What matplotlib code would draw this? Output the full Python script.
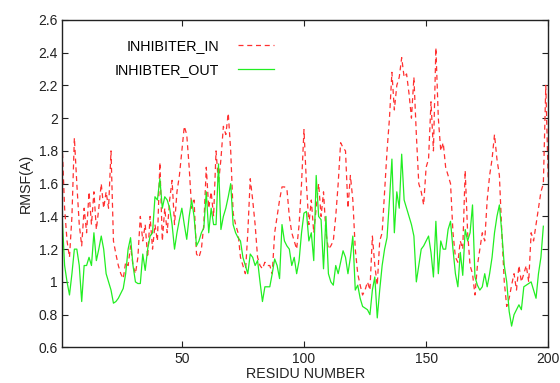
import numpy as np
import matplotlib
matplotlib.use("Agg")
import matplotlib.pyplot as plt

plt.rcParams['font.family'] = ['Liberation Sans', 'DejaVu Sans']

# RMSF per residue
rmsf_in = [
    1.84, 1.45, 1.25, 1.15, 1.40, 1.88, 1.60, 1.35, 1.22, 1.45,
    1.30, 1.55, 1.35, 1.55, 1.32, 1.45, 1.60, 1.45, 1.55, 1.45,
    1.80, 1.25, 1.17, 1.10, 1.05, 1.02, 1.12, 1.10, 1.22, 1.10,
    1.05, 1.15, 1.40, 1.25, 1.35, 1.15, 1.40, 1.20, 1.35, 1.25,
    1.73, 1.25, 1.45, 1.30, 1.50, 1.62, 1.35, 1.55, 1.65, 1.80,
    1.95, 1.90, 1.70, 1.45, 1.50, 1.17, 1.15, 1.20, 1.35, 1.70,
    1.45, 1.55, 1.40, 1.80, 1.60, 1.75, 1.95, 1.90, 2.03, 1.80,
    1.42, 1.35, 1.30, 1.15, 1.10, 1.05, 1.30, 1.63, 1.50, 1.35,
    1.15, 1.10, 1.08, 1.12, 1.10, 1.10, 1.05, 1.30, 1.40, 1.50,
    1.58, 1.58, 1.57, 1.40, 1.30, 1.25, 1.20, 1.35, 1.60, 1.93,
    1.60, 1.35, 1.50, 1.30, 1.45, 1.60, 1.40, 1.55, 1.30, 1.20,
    1.22, 1.25, 1.40, 1.60, 1.85, 1.82, 1.80, 1.45, 1.65, 1.50,
    1.20, 1.05, 0.98, 0.92, 0.95, 1.00, 0.95, 1.28, 1.10, 0.98,
    1.25, 1.30, 1.55, 1.80, 2.00, 2.28, 2.05, 2.20, 2.25, 2.37,
    2.25, 2.27, 2.15, 2.00, 2.25, 1.90, 1.60, 1.55, 1.47, 1.70,
    1.75, 2.10, 1.80, 2.43, 2.00, 1.80, 1.85, 1.70, 1.65, 1.60,
    1.30, 1.15, 1.12, 1.25, 1.20, 1.68, 1.30, 1.10, 1.05, 0.92,
    1.10, 1.20, 1.30, 1.25, 1.50, 1.65, 1.75, 1.90, 1.75, 1.65,
    1.30, 1.00, 0.85, 0.90, 0.98, 1.05, 0.95, 1.10, 1.00, 1.05,
    1.10, 1.00, 1.30, 1.25, 1.35, 1.45, 1.55, 1.60, 2.20, 1.62,
]

rmsf_out = [
    1.40, 1.10, 1.00, 0.92, 1.05, 1.20, 1.20, 1.10, 0.88, 1.10,
    1.10, 1.15, 1.10, 1.30, 1.13, 1.20, 1.28, 1.20, 1.05, 1.00,
    0.95, 0.87, 0.88, 0.90, 0.93, 0.96, 1.05, 1.20, 1.27, 1.10,
    1.00, 0.99, 0.99, 1.17, 1.07, 1.20, 1.28, 1.30, 1.52, 1.50,
    1.63, 1.45, 1.52, 1.50, 1.45, 1.35, 1.20, 1.30, 1.38, 1.45,
    1.35, 1.26, 1.40, 1.50, 1.40, 1.22, 1.25, 1.30, 1.33, 1.55,
    1.30, 1.45, 1.35, 1.35, 1.72, 1.32, 1.40, 1.45, 1.52, 1.60,
    1.35, 1.30, 1.27, 1.25, 1.15, 1.10, 1.05, 1.17, 1.15, 1.10,
    1.13, 1.00, 0.88, 0.97, 0.97, 0.97, 1.05, 1.14, 1.10, 1.02,
    1.35, 1.25, 1.22, 1.20, 1.10, 1.15, 1.05, 1.13, 1.30, 1.42,
    1.43, 1.25, 1.30, 1.13, 1.65, 1.40, 1.38, 1.08, 1.40, 1.05,
    1.00, 0.98, 1.10, 1.05, 1.12, 1.19, 1.15, 1.05, 1.15, 1.28,
    0.95, 0.98, 0.90, 0.85, 0.84, 0.83, 0.80, 0.95, 1.03, 0.78,
    0.95, 1.10, 1.20, 1.27, 1.50, 1.75, 1.30, 1.55, 1.45, 1.78,
    1.50, 1.45, 1.40, 1.35, 1.28, 1.00, 1.10, 1.20, 1.22, 1.25,
    1.28, 1.18, 1.03, 1.37, 1.05, 1.25, 1.20, 1.20, 1.32, 1.37,
    1.20, 1.05, 0.97, 1.18, 1.04, 1.32, 1.25, 1.30, 1.47, 1.03,
    0.98, 0.95, 0.97, 1.05, 0.97, 1.05, 1.15, 1.30, 1.40, 1.47,
    1.30, 1.10, 1.00, 0.82, 0.73, 0.80, 0.83, 0.86, 0.83, 0.97,
    0.98, 0.99, 1.00, 0.95, 0.90, 1.05, 1.15, 1.34,
]

res_in = np.arange(1, len(rmsf_in) + 1)
res_out = np.arange(1, len(rmsf_out) + 1)

y_ticks = [0.6, 0.8, 1.0, 1.2, 1.4, 1.6, 1.8, 2.0, 2.2, 2.4, 2.6]
y_labels = ['0.6', '0.8', '1', '1.2', '1.4', '1.6', '1.8', '2', '2.2', '2.4', '2.6']
x_ticks = [50, 100, 150, 200]

fig = plt.figure(figsize=(5.6, 3.83), dpi=100)
ax = fig.add_axes([0.111, 0.093, 0.868, 0.855])

ax.plot(res_in, rmsf_in, color='#ff3030', lw=0.9, linestyle=(0, (4, 3)),
        label='INHIBITER_IN')
ax.plot(res_out, rmsf_out, color='#22ee22', lw=0.9, label='INHIBTER_OUT')

ax.set_xlim(1, 200)
ax.set_ylim(0.6, 2.6)
ax.set_xticks(x_ticks)
ax.set_yticks(y_ticks)
ax.set_yticklabels(y_labels)
ax.tick_params(direction='in', top=True, right=True, length=4, width=0.8,
               labelsize=10, colors='#222222', pad=3)
for sp in ax.spines.values():
    sp.set_linewidth(1.0)
    sp.set_color('#222222')

ax.set_xlabel('RESIDU NUMBER', fontsize=10.3, color='#222222', labelpad=1)
ax.set_ylabel('RMSF(A)', fontsize=10.3, color='#222222', labelpad=4)

ax.legend(loc='upper right', bbox_to_anchor=(0.447, 0.96), frameon=False,
          markerfirst=False, fontsize=10.3, handlelength=2.5, handletextpad=1.3,
          labelspacing=0.75, borderaxespad=0)

fig.savefig('out.png', dpi=100)
